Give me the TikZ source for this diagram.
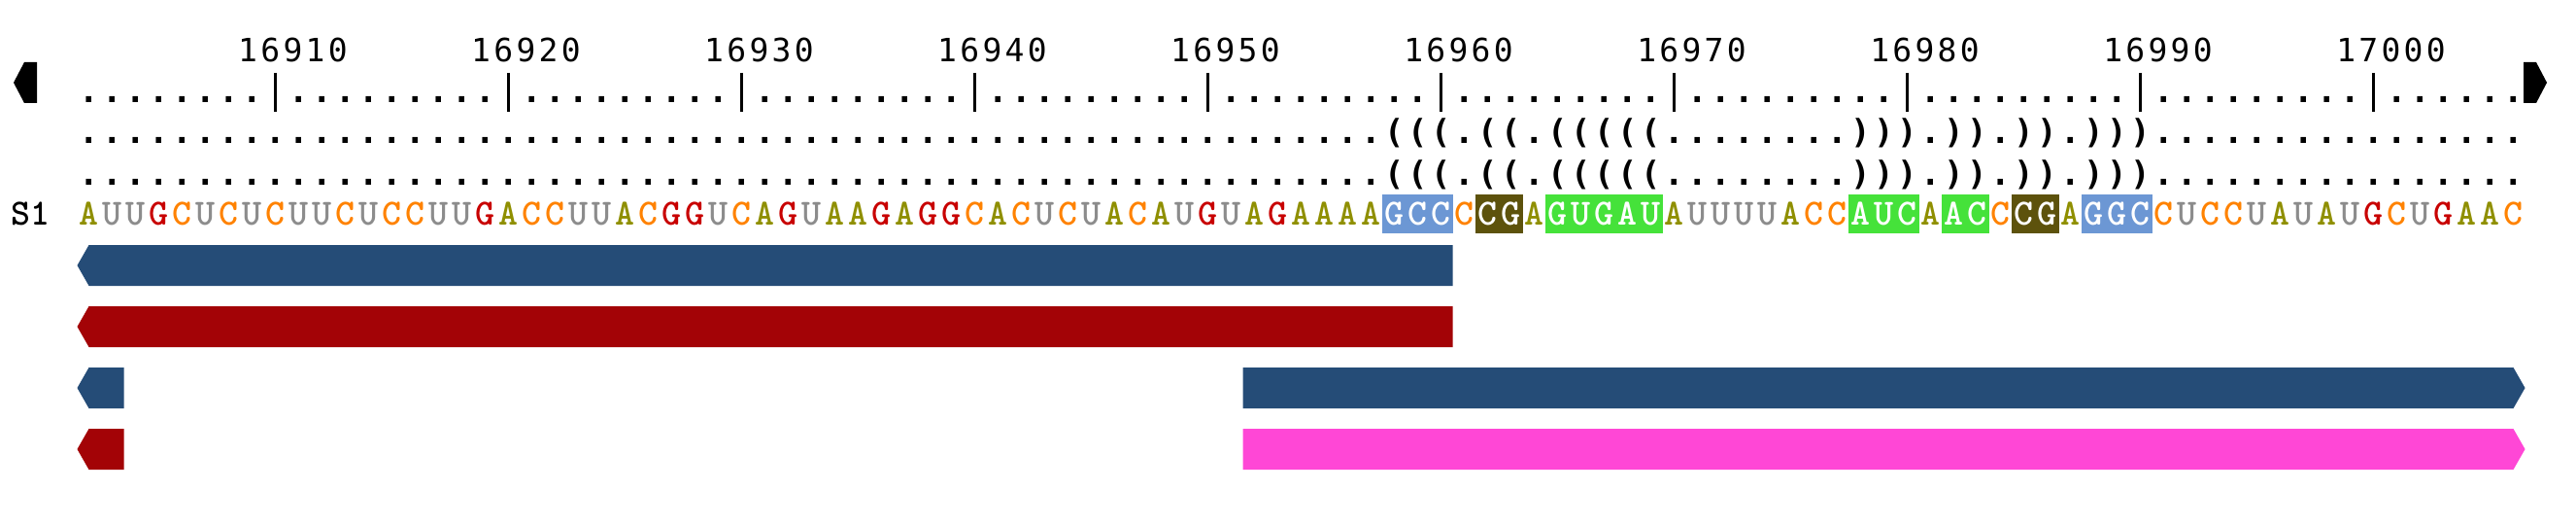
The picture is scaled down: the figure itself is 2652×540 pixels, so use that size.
\documentclass[tikz,border=0pt]{standalone}
\usepackage{fontspec}
\newfontfamily\dbfont{DejaVu Sans Mono}
\newfontfamily\posfont{DejaVu Sans Mono}[LetterSpace=10]
\definecolor{baseA}{HTML}{8F8F00}
\definecolor{baseU}{HTML}{8C8C8C}
\definecolor{baseG}{HTML}{C80000}
\definecolor{baseC}{HTML}{FF8200}
\definecolor{stemblue}{HTML}{6C97D4}
\definecolor{stemolive}{HTML}{5D520C}
\definecolor{stemgreen}{HTML}{45E23A}
\definecolor{featblue}{HTML}{254C77}
\definecolor{featred}{HTML}{A30306}
\definecolor{featpink}{HTML}{FF47D6}
\newcommand\dbd{.}
\newcommand\dbo{(}
\newcommand\dbc{)}
\tikzset{
  nuc/.style={font=\ttfamily\bfseries\fontsize{38}{40}\selectfont, minimum width=24.5pt, minimum height=40pt, inner sep=0pt, text height=23.2pt, text depth=0pt},
  nucA/.style={nuc, text=baseA},
  nucU/.style={nuc, text=baseU},
  nucG/.style={nuc, text=baseG},
  nucC/.style={nuc, text=baseC},
  hln/.style={},
  hlb/.style={fill=stemblue, text=white},
  hlo/.style={fill=stemolive, text=white},
  hlg/.style={fill=stemgreen, text=white},
  dbchar/.style={font=\dbfont\bfseries\fontsize{34}{34}\selectfont, anchor=base, inner sep=0pt},
  poslabel/.style={font=\posfont\fontsize{33}{33}\selectfont, anchor=base, inner sep=0pt},
  tick/.style={line width=2.5pt},
  endmark/.style={fill=black},
  featleft/.style={fill=#1},
  featright/.style={fill=#1}
}
\begin{document}
\begin{tikzpicture}[x=1pt, y=-1pt]
  \useasboundingbox (0,0) rectangle (2652,540);

  % ends of the ruler
  \fill[endmark] (14,85) -- (25,64) -- (38,64) -- (38,106) -- (25,106) -- cycle;
  \fill[endmark] (2598,64) -- (2611,64) -- (2622,85) -- (2611,106) -- (2598,106) -- cycle;

  % ruler
  \foreach \i in {0,...,104} {
    \pgfmathtruncatemacro\r{mod(\i+2,10)}
    \ifnum\r=0
      \draw[tick] ({91.5+24*\i},75) -- ({91.5+24*\i},115);
    \else
      \node[dbchar] (t\i) at ({91.5+24*\i},105.5) {.};
    \fi
  }
  \foreach \k in {0,...,9} {
    \edef\v{\the\numexpr16910+10*\k\relax}
    \node[poslabel] (p\v) at ({91.5+24*(8+10*\k)+18},63.3) {\v};
  }

  % sequence and structures
  \node[nuc] (seqname) at (31.5,220) {S1};
  \foreach \b/\h/\s [count=\i from 0] in {
    A/n/d,U/n/d,U/n/d,G/n/d,C/n/d,U/n/d,C/n/d,U/n/d,C/n/d,U/n/d,
    U/n/d,C/n/d,U/n/d,C/n/d,C/n/d,U/n/d,U/n/d,G/n/d,A/n/d,C/n/d,
    C/n/d,U/n/d,U/n/d,A/n/d,C/n/d,G/n/d,G/n/d,U/n/d,C/n/d,A/n/d,
    G/n/d,U/n/d,A/n/d,A/n/d,G/n/d,A/n/d,G/n/d,G/n/d,C/n/d,A/n/d,
    C/n/d,U/n/d,C/n/d,U/n/d,A/n/d,C/n/d,A/n/d,U/n/d,G/n/d,U/n/d,
    A/n/d,G/n/d,A/n/d,A/n/d,A/n/d,A/n/d,G/b/o,C/b/o,C/b/o,C/n/d,
    C/o/o,G/o/o,A/n/d,G/g/o,U/g/o,G/g/o,A/g/o,U/g/o,A/n/d,U/n/d,
    U/n/d,U/n/d,U/n/d,A/n/d,C/n/d,C/n/d,A/g/c,U/g/c,C/g/c,A/n/d,
    A/g/c,C/g/c,C/n/d,C/o/c,G/o/c,A/n/d,G/b/c,G/b/c,C/b/c,C/n/d,
    U/n/d,C/n/d,C/n/d,U/n/d,A/n/d,U/n/d,A/n/d,U/n/d,G/n/d,C/n/d,
    U/n/d,G/n/d,A/n/d,A/n/d,C/n/d} {
    \node[dbchar] (a\i) at ({91.5+24*\i},148) {\csname db\s\endcsname};
    \node[dbchar] (b\i) at ({91.5+24*\i},190.5) {\csname db\s\endcsname};
    \node[nuc\b, hl\h] (s\i) at ({91.5+24*\i},220) {\b};
  }

  % feature tracks
  \fill[featleft=featblue] (79.5,273) -- (91.5,252) -- (1495.5,252) -- (1495.5,294) -- (91.5,294) -- cycle;
  \fill[featleft=featred] (79.5,336) -- (91.5,315) -- (1495.5,315) -- (1495.5,357) -- (91.5,357) -- cycle;
  \fill[featleft=featblue] (79.5,399) -- (91.5,378) -- (127.5,378) -- (127.5,420) -- (91.5,420) -- cycle;
  \fill[featright=featblue] (1279.5,378) -- (2587.5,378) -- (2599.5,399) -- (2587.5,420) -- (1279.5,420) -- cycle;
  \fill[featleft=featred] (79.5,462) -- (91.5,441) -- (127.5,441) -- (127.5,483) -- (91.5,483) -- cycle;
  \fill[featright=featpink] (1279.5,441) -- (2587.5,441) -- (2599.5,462) -- (2587.5,483) -- (1279.5,483) -- cycle;
\end{tikzpicture}
\end{document}
